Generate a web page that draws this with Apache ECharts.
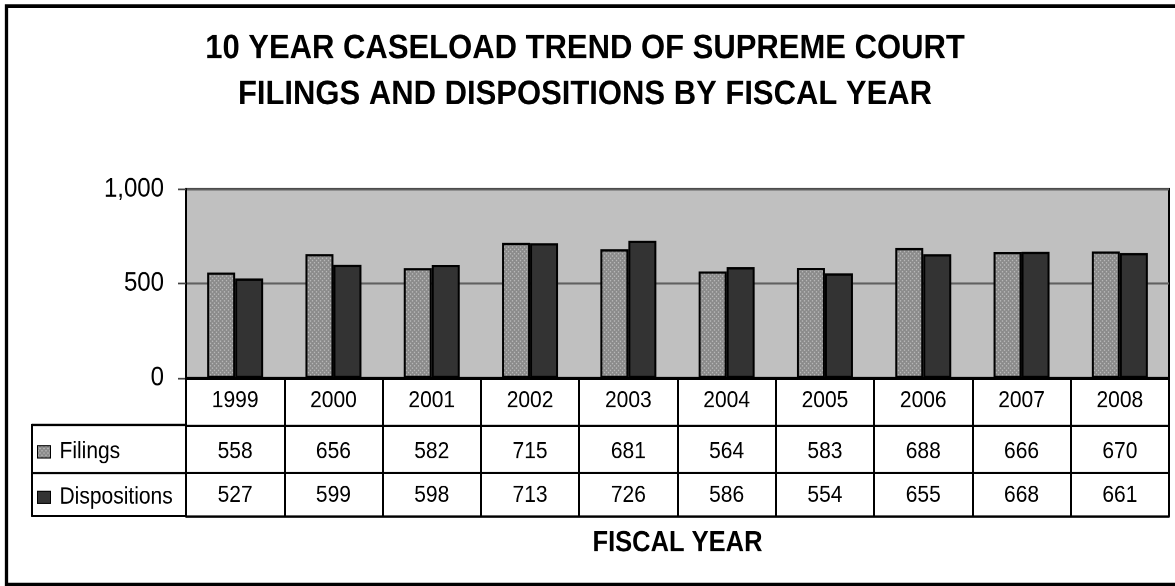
<!DOCTYPE html>
<html>
<head>
<meta charset="utf-8">
<script src="https://cdn.jsdelivr.net/npm/echarts@6/dist/echarts.min.js"></script>
<style>
html,body{margin:0;padding:0;background:#fff;overflow:hidden;width:1175px;height:586px;}
#chart{width:1175px;height:523px;transform:scaleY(1.12046);transform-origin:0 0;}
</style>
</head>
<body>
<div id="chart"></div>
<script>
const years = ['1999','2000','2001','2002','2003','2004','2005','2006','2007','2008'];
const filings = [558, 656, 582, 715, 681, 564, 583, 688, 666, 670];
const dispositions = [527, 599, 598, 713, 726, 586, 554, 655, 668, 661];
const yTicks = [0, 500, 1000];
const seriesNames = ['Filings', 'Dispositions'];

const FONT = '"Liberation Sans", Arial, Helvetica, sans-serif';

// dotted fill pattern for Filings
const pat = document.createElement('canvas');
pat.width = 4; pat.height = 4;
const pctx = pat.getContext('2d');
pctx.fillStyle = '#8a8a8a';
pctx.fillRect(0, 0, 4, 4);
pctx.fillStyle = '#dcdcdc';
pctx.fillRect(0, 0, 1, 1);
pctx.fillRect(2, 2, 1, 1);
const dotFill = { image: pat, repeat: 'repeat' };

function fmt(v) {
  return String(v).replace(/\B(?=(\d{3})+(?!\d))/g, ',');
}

const chart = echarts.init(document.getElementById('chart'), null, { renderer: 'canvas', devicePixelRatio: 2 });

const rowAxis = (offset, tickLen, margin, labels, extra) => Object.assign({
  type: 'category',
  data: years,
  gridIndex: 0,
  position: 'bottom',
  offset: offset,
  boundaryGap: true,
  axisLine: { show: true, lineStyle: { color: '#000', width: 2 } },
  axisTick: { show: tickLen > 0, interval: 0, length: tickLen, lineStyle: { color: '#000', width: 2 } },
  axisLabel: {
    show: !!labels, interval: 0, margin: margin,
    color: '#000', fontSize: 21, fontFamily: FONT,
    formatter: labels ? (v, i) => String(labels[i]) : undefined
  },
  splitLine: { show: false }
}, extra || {});

const option = {
  backgroundColor: '#fff',
  animation: false,
  title: {
    text: '10 YEAR CASELOAD TREND OF SUPREME COURT\nFILINGS AND DISPOSITIONS BY FISCAL YEAR',
    left: 585,
    top: 23.2,
    padding: 0,
    textAlign: 'center',
    textStyle: { fontFamily: FONT, fontWeight: 'bold', fontSize: 31, lineHeight: 41, color: '#000' }
  },
  legend: {
    data: seriesNames,
    orient: 'vertical',
    left: 37,
    top: 392.3,
    padding: 0,
    itemGap: 18.6,
    itemWidth: 13,
    itemHeight: 11,
    icon: 'rect',
    selectedMode: false,
    itemStyle: { borderColor: '#000', borderWidth: 1 },
    textStyle: { fontFamily: FONT, fontSize: 21, lineHeight: 22, color: '#000', padding: [0, 0, 0, 4] }
  },
  grid: {
    left: 186, right: 6, top: 168.7, bottom: 185.6,
    show: true, backgroundColor: '#c0c0c0', borderColor: '#000', borderWidth: 2
  },
  xAxis: [
    rowAxis(0, 41.95, 9.6, years),
    rowAxis(41.95, 42.84, 13.2, filings),
    rowAxis(84.79, 38.38, 9.6, dispositions),
    rowAxis(123.17, 0, 0, null, {
      name: 'FISCAL YEAR',
      nameLocation: 'middle',
      nameGap: 11.4,
      nameTextStyle: { fontFamily: FONT, fontWeight: 'bold', fontSize: 25.5, color: '#000', verticalAlign: 'top' }
    })
  ],
  yAxis: {
    type: 'value',
    min: yTicks[0],
    max: yTicks[yTicks.length - 1],
    interval: 500,
    axisLine: { show: true, lineStyle: { color: '#000', width: 2 } },
    axisTick: { show: true, length: 8, lineStyle: { color: '#444', width: 1.5 } },
    axisLabel: { margin: 22, color: '#000', fontSize: 24, fontFamily: FONT, formatter: fmt },
    splitLine: { show: true, lineStyle: { color: '#606060', width: 1.8 } }
  },
  series: [
    {
      name: seriesNames[0], type: 'bar', xAxisIndex: 0, data: filings,
      barWidth: 28, barGap: '0%',
      itemStyle: { color: dotFill, borderColor: '#000', borderWidth: 2 }
    },
    {
      name: seriesNames[1], type: 'bar', xAxisIndex: 0, data: dispositions,
      barWidth: 28, barGap: '0%',
      itemStyle: { color: '#333333', borderColor: '#000', borderWidth: 2 }
    }
  ],
  graphic: [
    { type: 'rect', silent: true, z: 100,
      shape: { x: 6.5, y: 5.35, width: 1200, height: 516.3 },
      style: { fill: 'none', stroke: '#000', lineWidth: 3.3 } },
    { type: 'line', silent: true, z: 100, shape: { x1: 32, y1: 379.31, x2: 187, y2: 379.31 }, style: { stroke: '#000', lineWidth: 2 } },
    { type: 'line', silent: true, z: 100, shape: { x1: 32, y1: 422.15, x2: 187, y2: 422.15 }, style: { stroke: '#000', lineWidth: 2 } },
    { type: 'line', silent: true, z: 100, shape: { x1: 32, y1: 460.53, x2: 187, y2: 460.53 }, style: { stroke: '#000', lineWidth: 2 } },
    { type: 'line', silent: true, z: 100, shape: { x1: 32, y1: 378.4, x2: 32, y2: 461.4 }, style: { stroke: '#000', lineWidth: 2 } }
  ]
};

chart.setOption(option);
</script>
</body>
</html>
